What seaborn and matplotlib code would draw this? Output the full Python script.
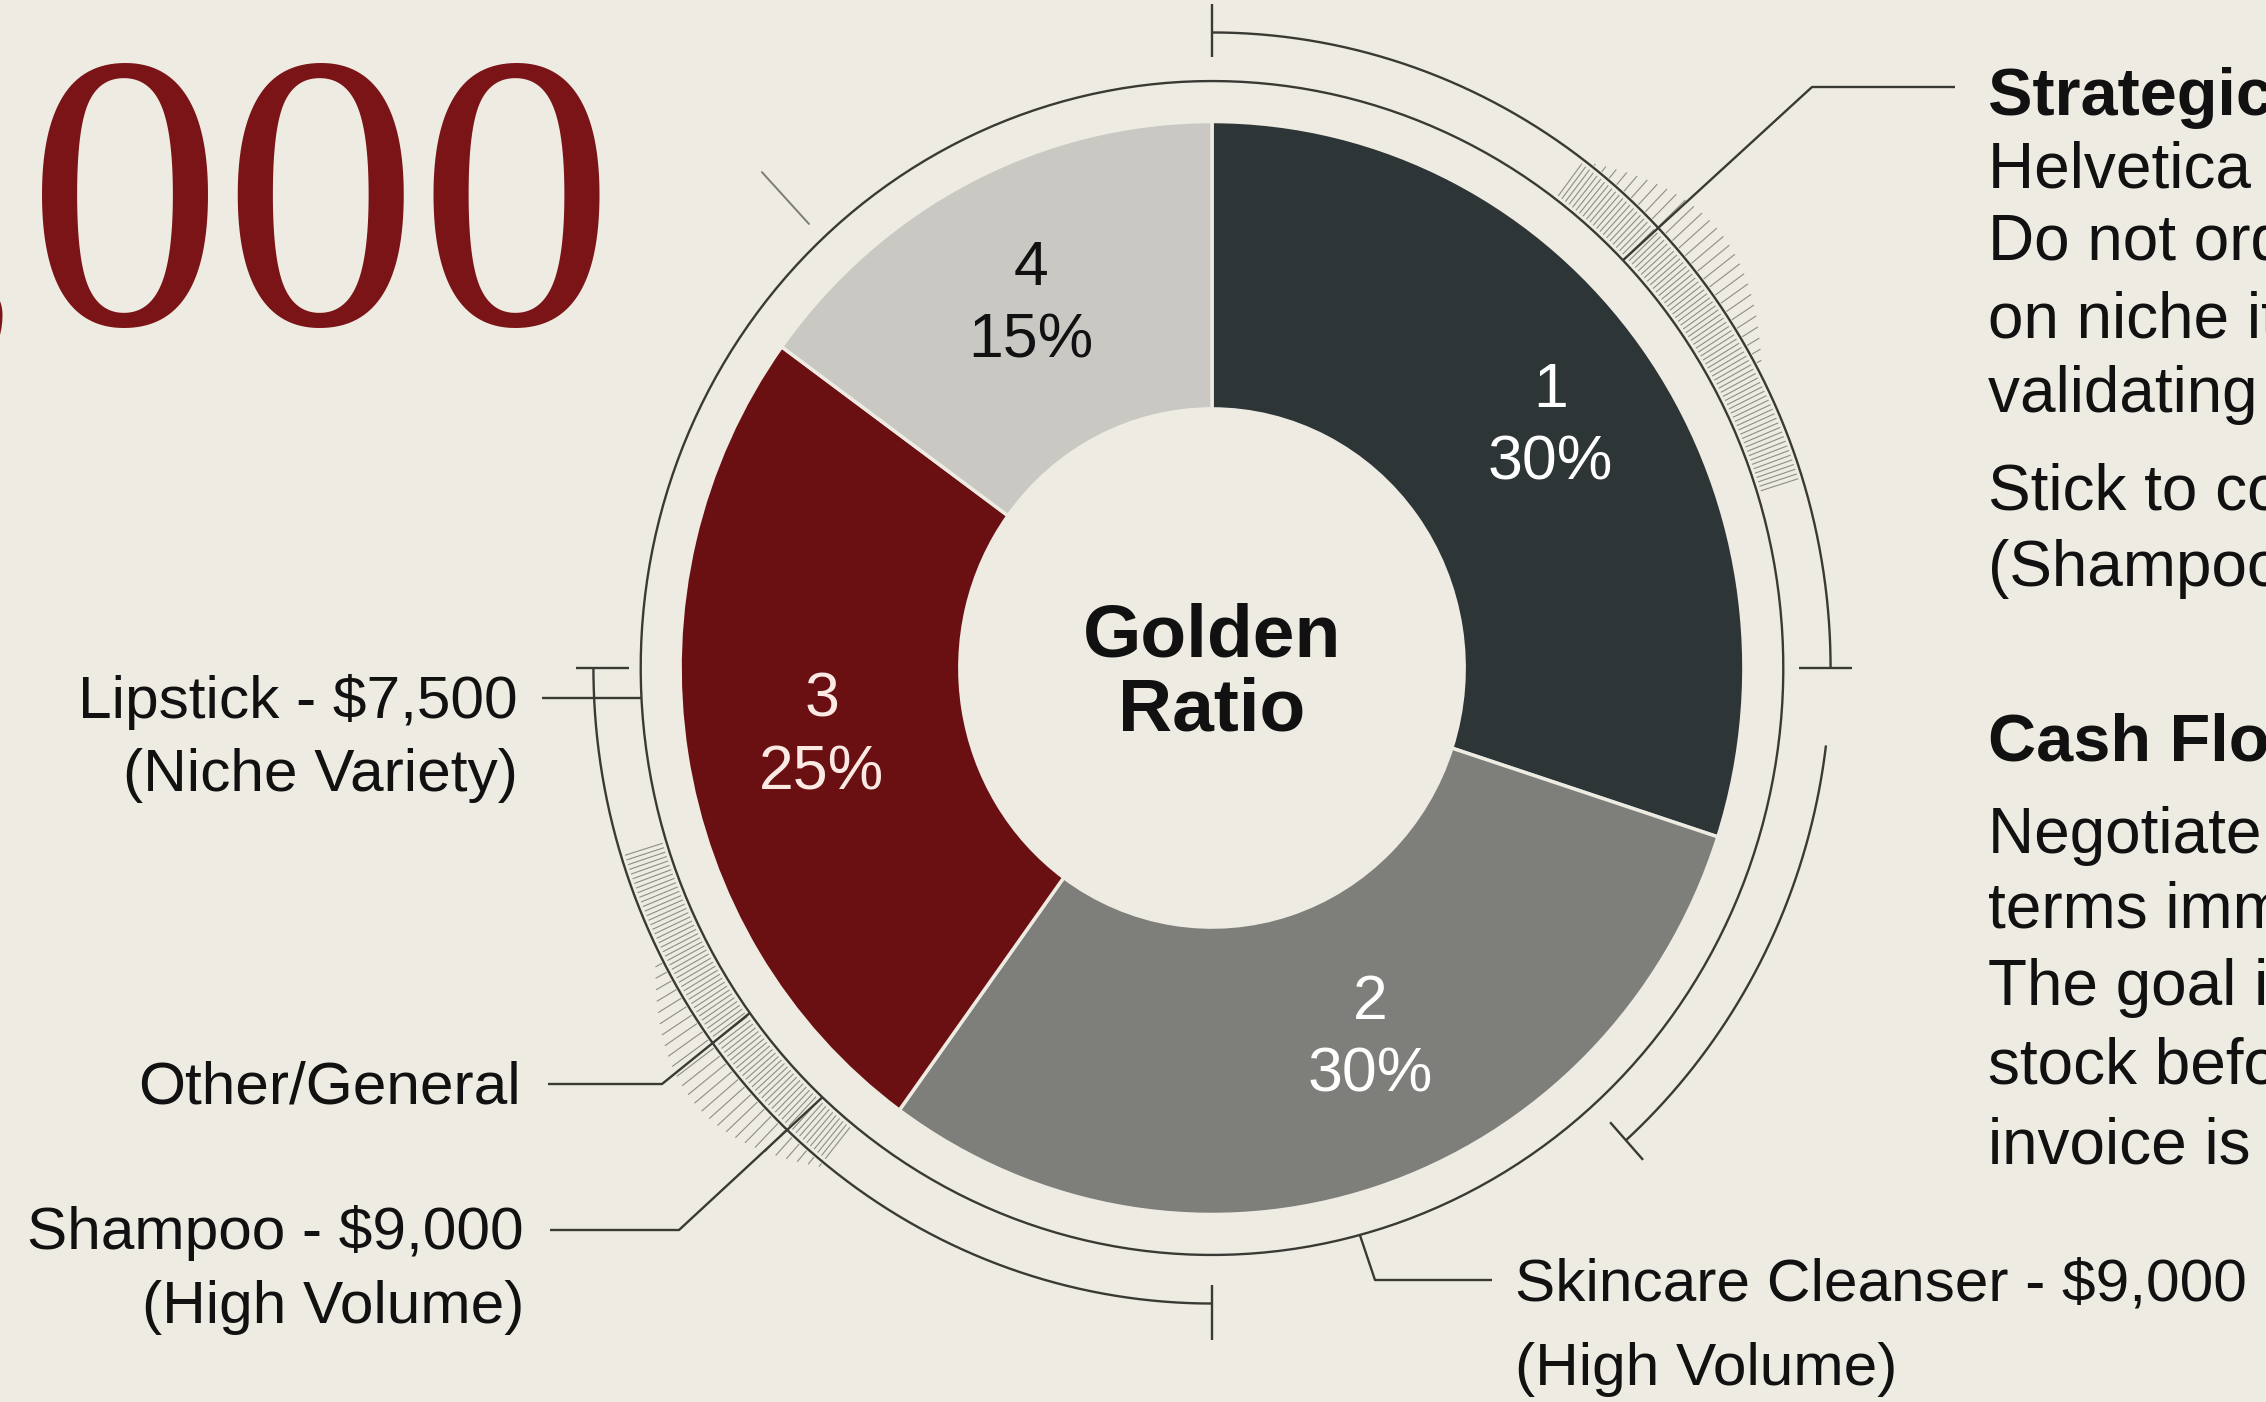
import numpy as np
import matplotlib
matplotlib.use("Agg")
import matplotlib.pyplot as plt
import matplotlib.transforms as mtransforms
import seaborn as sns
from matplotlib.collections import LineCollection

# ---------------- data ----------------
segment_ids = ["1", "2", "3", "4"]
segment_shares = [30, 30, 25, 15]
segment_colors = ["#2E3537", "#7E7E7A", "#6A1012", "#C9C8C3"]
segment_text_colors = ["#FFFFFF", "#FFFFFF", "#FBE9E4", "#111111"]

budget_text = "$30,000"
center_title = ["Golden", "Ratio"]

lipstick_lines = ["Lipstick - $7,500", "(Niche Variety)"]
other_lines = ["Other/General"]
shampoo_lines = ["Shampoo - $9,000", "(High Volume)"]
skincare_lines = ["Skincare Cleanser - $9,000", "(High Volume)"]

advice_title = "Strategic Advice"
advice_lines = ["Helvetica Neue, clean and modern.", "Do not order too deeply",
                "on niche items before", "validating demand."]
advice_lines2 = ["Stick to core bestsellers", "(Shampoo, Cleanser)."]
cash_title = "Cash Flow Tip"
cash_lines = ["Negotiate Net-30", "terms immediately.", "The goal is to sell",
              "stock before the", "invoice is due."]

# ---------------- style ----------------
W, H, DPI = 2266, 1402, 100
BG = "#EEEBE2"
INK = "#3A3A35"
TXT = "#111111"
sns.set_theme(style="white", rc={"figure.facecolor": BG, "axes.facecolor": BG})
plt.rcParams["font.family"] = ["Liberation Sans", "DejaVu Sans"]
palette = sns.color_palette(segment_colors)

fig = plt.figure(figsize=(W / DPI, H / DPI), dpi=DPI, facecolor=BG)
ax = fig.add_axes([0, 0, 1, 1])
ax.set_facecolor(BG)

CX, CY = 1212, 668
SX, SY = 0.985, 1.012
R_OUT, R_IN, R_RING, R_BR = 540, 256, 580, 628
LABEL_SHIFT = [(16, 0), (35, -19), (4, 4), (0, 2)]  # pixel nudges of wedge labels

wedges, _ = ax.pie(segment_shares, colors=palette, radius=R_OUT, center=(CX, CY),
                   startangle=-90, counterclock=True,
                   wedgeprops=dict(width=R_OUT - R_IN, edgecolor=BG, linewidth=2.5))
ax.set_xlim(0, W)
ax.set_ylim(H, 0)
ax.set_aspect("auto")
ax.axis("off")

squash = (mtransforms.Affine2D().translate(-CX, -CY).scale(SX, SY).translate(CX, CY)
          + ax.transData)
for w in wedges:
    w.set_transform(squash)

# wedge labels
for w, sid, val, tc, (dx, dy) in zip(wedges, segment_ids, segment_shares,
                                     segment_text_colors, LABEL_SHIFT):
    th = np.deg2rad((w.theta1 + w.theta2) / 2)
    x = CX + 405 * SX * np.cos(th) + dx
    y = CY + 405 * SY * np.sin(th) + dy
    ax.text(x, y, f"{sid}\n{val}%", ha="center", va="center", fontsize=45,
            color=tc, linespacing=1.3)

ax.text(CX, CY + 6, "\n".join(center_title), ha="center", va="center", fontsize=54,
        fontweight="bold", color=TXT, linespacing=1.08)


def pt(a, r):
    a = np.deg2rad(a)
    return (CX + SX * r * np.sin(a), CY - SY * r * np.cos(a))


def arc(a0, a1, r, **kw):
    aa = np.linspace(a0, a1, 240)
    xs = [pt(a, r)[0] for a in aa]
    ys = [pt(a, r)[1] for a in aa]
    ax.plot(xs, ys, **kw)


def rtick(a, r0, r1, **kw):
    p0, p1 = pt(a, r0), pt(a, r1)
    ax.plot([p0[0], p1[0]], [p0[1], p1[1]], **kw)


lk = dict(color=INK, lw=1.7, solid_capstyle="butt", zorder=3)

# ring
arc(0, 360, R_RING, **lk)

# brackets
arc(0, 90, R_BR, **lk)
rtick(0, 604, 656, **lk)
rtick(90, 596, 650, **lk)
arc(97, 138, R_BR, **lk)
rtick(138, 604, 654, **lk)
arc(180, 270, R_BR, **lk)
rtick(180, 610, 664, **lk)
rtick(270, 592, 646, **lk)
rtick(317, 600, 670, color="#7D7D75", lw=1.4, zorder=3)

# hatch marks
hk = dict(colors="#8E8E84", linewidths=0.8, zorder=2)
segs = []
for a in np.arange(37, 73, 0.45):
    segs.append([pt(a, 584), pt(a, 624)])
for a in np.arange(38, 62, 0.9):
    segs.append([pt(a, 630), pt(a, 632 + 40 * np.sin(np.pi * (a - 38) / 24))])
for a in np.arange(219, 253, 0.45):
    segs.append([pt(a, 584), pt(a, 624)])
for a in np.arange(219, 243, 0.9):
    segs.append([pt(a, 630), pt(a, 634 + 45 * np.sin(np.pi * (a - 219) / 24))])
ax.add_collection(LineCollection(segs, **hk))

# leader lines
Y_SKIN = 1280
p = pt(46, R_RING)
ax.plot([1955, 1812, p[0]], [87, 87, p[1]], **lk)
ax.plot([542, CX - SX * np.sqrt(R_RING ** 2 - 30 ** 2)], [698, 698], **lk)
p = pt(234, R_RING)
ax.plot([548, 662, p[0]], [1084, 1084, p[1]], **lk)
p = pt(223, R_RING)
ax.plot([550, 679, p[0]], [1230, 1230, p[1]], **lk)
p = pt(165, R_RING)
ax.plot([p[0], 1375, 1492], [p[1], Y_SKIN, Y_SKIN], **lk)

# big budget number (clipped at left edge, as in the reference)
ax.text(615, 323, budget_text, ha="right", va="baseline", fontsize=282,
        family=["Liberation Serif", "DejaVu Serif"], color="#7A1416")

# left labels
FS = 43.5
for txt, y in zip(lipstick_lines, [697, 770]):
    ax.text(518, y + 21, txt, ha="right", va="baseline", fontsize=FS, color=TXT)
for txt, y in zip(other_lines, [1083]):
    ax.text(521, y + 21, txt, ha="right", va="baseline", fontsize=FS, color=TXT)
for txt, y in zip(shampoo_lines, [1228, 1302]):
    ax.text(524, y + 21, txt, ha="right", va="baseline", fontsize=FS, color=TXT)
for txt, y in zip(skincare_lines, [Y_SKIN, 1364]):
    ax.text(1515, y + 21, txt, ha="left", va="baseline", fontsize=FS, color=TXT)

# right notes
XR = 1988
ax.text(XR, 91 + 24, advice_title, ha="left", va="baseline", fontsize=48,
        fontweight="bold", color=TXT)
for txt, y in zip(advice_lines + advice_lines2, [166, 238, 315, 390, 488, 564]):
    ax.text(XR, y + 22, txt, ha="left", va="baseline", fontsize=46, color=TXT)
ax.text(XR, 737 + 24, cash_title, ha="left", va="baseline", fontsize=48,
        fontweight="bold", color=TXT)
for txt, y in zip(cash_lines, [831, 906, 983, 1062, 1142]):
    ax.text(XR, y + 22, txt, ha="left", va="baseline", fontsize=46, color=TXT)

fig.savefig("out.png", dpi=DPI, facecolor=BG)
